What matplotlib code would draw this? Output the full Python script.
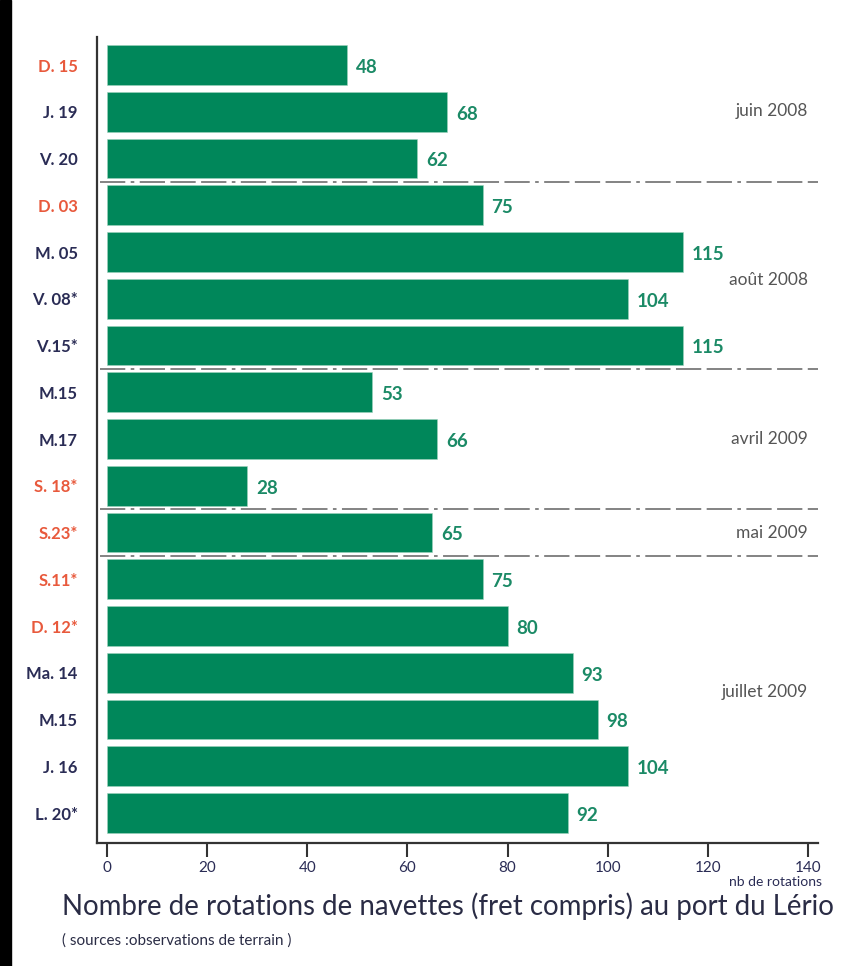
import matplotlib.pyplot as plt
from matplotlib.patches import Rectangle

# data
days = ['D. 15', 'J. 19', 'V. 20', 'D. 03', 'M. 05', 'V. 08*', 'V.15*', 'M.15', 'M.17',
        'S. 18*', 'S.23*', 'S.11*', 'D. 12*', 'Ma. 14', 'M.15', 'J. 16', 'L. 20*']
rotations = [48, 68, 62, 75, 115, 104, 115, 53, 66, 28, 65, 75, 80, 93, 98, 104, 92]
weekend = [True, False, False, True, False, False, False, False, False,
           True, True, True, True, False, False, False, False]
months = ['juin 2008', 'août 2008', 'avril 2009', 'mai 2009', 'juillet 2009']
month_pos = [0.98, 4.6, 8.0, 10.0, 13.4]
separators = [2.5, 6.5, 9.5, 10.5]
xticks = [0, 20, 40, 60, 80, 100, 120, 140]

green = '#00875a'
navy = '#2a2c55'
red = '#e8593c'

plt.rcParams['font.family'] = ['Lato', 'DejaVu Sans']

fig = plt.figure(figsize=(8.56, 9.66), dpi=100)
fig.patches.append(Rectangle((0, 0), 11 / 856, 1, transform=fig.transFigure,
                             color='black', zorder=0))
ax = fig.add_axes([97 / 856, 1 - 843 / 966, (818 - 97) / 856, (843 - 37) / 966])

y = list(range(len(days)))
ax.barh(y, rotations, height=0.85, color=green, edgecolor='#9fd3bd', linewidth=0.4, zorder=2)

for i, v in enumerate(rotations):
    ax.text(v + 1.8, i + 0.05, str(v), va='center', ha='left', fontsize=13.5,
            fontweight='bold', color='#1b8a66')

for s in separators:
    ax.plot([-1.5, 142], [s, s], color='#7a7a7a', lw=1.3,
            dashes=(14, 3, 2, 3, 14, 3, 14, 3), zorder=1)

for m, p in zip(months, month_pos):
    ax.text(140, p, m, ha='right', va='center', fontsize=12.5, color='#555555')

ax.set_xlim(-2, 142)
ax.set_ylim(16.64, -0.6)
ax.set_yticks(y)
ax.set_yticklabels(days, fontsize=12, fontweight='bold')
for lab, w in zip(ax.get_yticklabels(), weekend):
    lab.set_color(red if w else navy)
ax.tick_params(axis='y', length=0, pad=14)
ax.set_xticks(xticks)
ax.tick_params(axis='x', length=10, width=1.5, color='#333333', labelsize=11,
               labelcolor=navy, pad=3)

for side in ['top', 'right']:
    ax.spines[side].set_visible(False)
for side in ['left', 'bottom']:
    ax.spines[side].set_color('#333333')
    ax.spines[side].set_linewidth(1.6)

fig.text(822 / 856, 1 - 882 / 966, 'nb de rotations', ha='right', va='center',
         fontsize=10, color=navy)
fig.text(62 / 856, 1 - 906 / 966, 'Nombre de rotations de navettes (fret compris) au port du Lério',
         ha='left', va='center', fontsize=19.9, color='#2a2c45')
fig.text(62 / 856, 1 - 941 / 966, '( sources :observations de terrain )',
         ha='left', va='center', fontsize=11, color='#2a2c45')

fig.savefig('out.png', dpi=100)
